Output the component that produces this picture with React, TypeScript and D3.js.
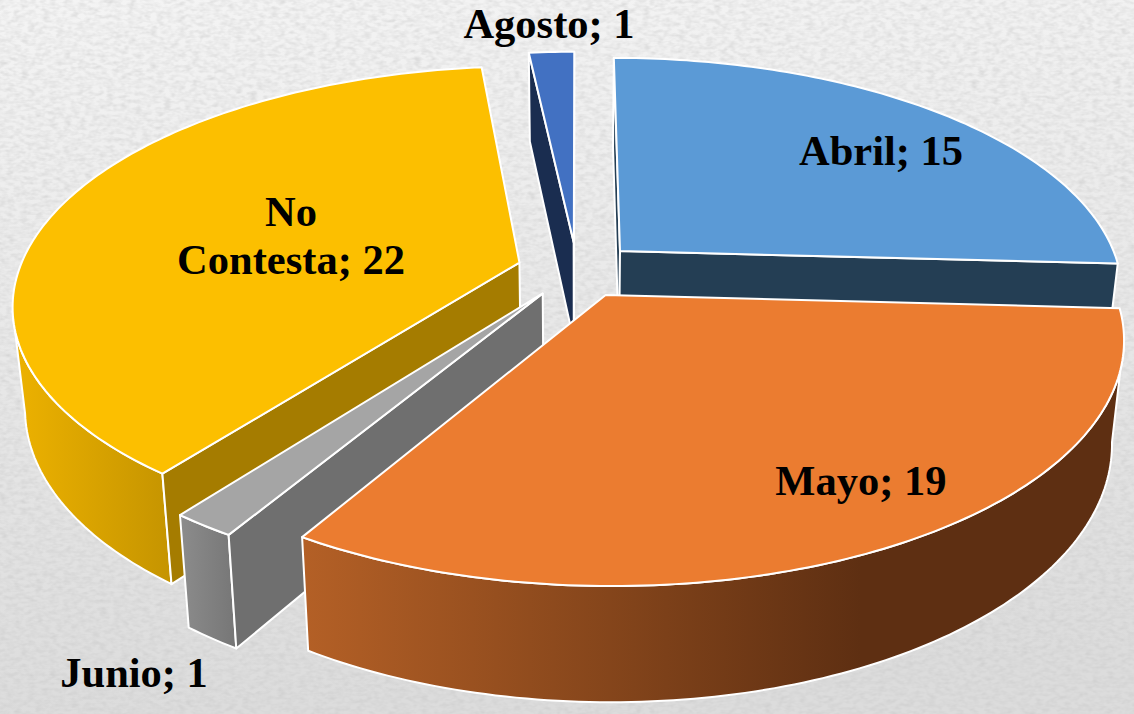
import React from "react";
import * as d3 from "d3";

const categories = ["Abril", "Mayo", "Junio", "No Contesta", "Agosto"];
const values = [15, 19, 1, 22, 1];

const topColors = ["#5B9AD6", "#EB7C30", "#A5A5A5", "#FCBF00", "#4271C2"];
const faceColors = ["#243E54", "#5E2F12", "#6F6F6F", "#A57C00", "#1A2D50"];
const wallStops: [number, string][][] = [
  [[0, "#243E54"], [1, "#243E54"]],
  [[0, "#B46026"], [0.68, "#5E2F12"], [1, "#5E2F12"]],
  [[0, "#8C8C8C"], [1, "#767676"]],
  [[0, "#EDB200"], [1, "#C59400"]],
  [[0, "#1A2D50"], [1, "#1A2D50"]],
];
const paintOrder = [4, 0, 3, 2, 1];
const labelAngle = [49.83, 148.04, 207.0, 284.4, 356.98];
const labelRadius = [0.871, 0.928, 1.505, 0.605, 1.295];
const labelLines = [["Abril; 15"], ["Mayo; 19"], ["Junio; 1"], ["No", "Contesta; 22"], ["Agosto; 1"]];

const W = 1134, H = 714;
const cx = 577, cy = 270, Rx = 500.5, Ry = 232, k = 0.17;
const explode = 0.12, thickness = 100, shrink = 0.978;

const rad = (d: number) => (d * Math.PI) / 180;

const scaleX = d3.scaleLinear().domain([0, 1]).range([0, Rx]);
const scaleY = d3.scaleLinear().domain([0, 1]).range([0, Ry]);

type Pt = [number, number];

function top(X: number, Y: number): Pt {
  const w = 1 - k * Y;
  return [cx + scaleX(X) / w, cy + scaleY(Y) / w];
}
function bottom(X: number, Y: number): Pt {
  const w = 1 - k * Y;
  return [cx + (shrink * scaleX(X)) / w, cy + (shrink * scaleY(Y) + thickness) / w];
}

const pieGen = d3.pie<number>().sort(null).startAngle(0).endAngle(2 * Math.PI);
const arcs = pieGen(values);
const line = d3.line().curve(d3.curveLinear);
const closed = (pts: Pt[]) => line(pts) + "Z";

interface Geo { i: number; wall: string | null; faces: string[]; cap: string; }

const geos: Geo[] = arcs.map((a, i) => {
  const mid = (a.startAngle + a.endAngle) / 2;
  const ox = explode * Math.sin(mid), oy = -explode * Math.cos(mid);
  const n = Math.max(4, Math.ceil((a.endAngle - a.startAngle) / rad(1)));
  const rim = d3.range(n + 1).map((j) => {
    const t = a.startAngle + ((a.endAngle - a.startAngle) * j) / n;
    return [ox + Math.sin(t), oy - Math.cos(t)] as Pt;
  });
  const topRim = rim.map((p) => top(p[0], p[1]));
  const botRim = rim.map((p) => bottom(p[0], p[1]));
  const apexT = top(ox, oy), apexB = bottom(ox, oy);

  // Only the faces that turn towards the viewer are drawn.
  const f1: Pt[] = [apexT, topRim[0], botRim[0], apexB];
  const f2: Pt[] = [apexT, topRim[n], botRim[n], apexB];
  const faces: string[] = [];
  if (d3.polygonArea(f1) > 0) faces.push(closed(f1));
  if (d3.polygonArea(f2) < 0) faces.push(closed(f2));

  const visible = d3.range(n + 1).filter((j) => {
    const seg = j < n ? j : n - 1;
    return topRim[seg + 1][0] < topRim[seg][0];
  });
  const wall = visible.length > 1
    ? closed([...visible.map((j) => topRim[j]), ...visible.slice().reverse().map((j) => botRim[j])])
    : null;

  return { i, wall, faces, cap: closed([apexT, ...topRim]) };
});

export default function App() {
  const stroke = { stroke: "#fff", strokeWidth: 2, strokeLinejoin: "round" as const };
  return (
    <svg width={W} height={H} viewBox={`0 0 ${W} ${H}`} style={{ position: "fixed", left: 0, top: 0, display: "block" }}>
      <defs>
        <linearGradient id="bg" x1="0" y1="0" x2="0.1" y2="1">
          <stop offset="0" stopColor="#F4F4F4" />
          <stop offset="1" stopColor="#DCDCDC" />
        </linearGradient>
        <filter id="paper" x="0" y="0" width="100%" height="100%">
          <feTurbulence type="fractalNoise" baseFrequency="0.14 0.26" numOctaves={2} seed={4} />
          <feColorMatrix type="matrix" values="0 0 0 0 0.55  0 0 0 0 0.55  0 0 0 0 0.55  0.6 0.6 0 0 -0.48" />
        </filter>
        {wallStops.map((stops, i) => (
          <linearGradient key={i} id={`wall${i}`} x1="0" y1="0" x2="1" y2="0">
            {stops.map(([o, c], j) => <stop key={j} offset={o} stopColor={c} />)}
          </linearGradient>
        ))}
      </defs>
      <rect width={W} height={H} fill="url(#bg)" />
      <rect width={W} height={H} filter="url(#paper)" />
      {paintOrder.map((idx) => {
        const g = geos[idx];
        return (
          <g key={categories[idx]}>
            {g.wall && <path d={g.wall} fill={`url(#wall${idx})`} {...stroke} />}
            {g.faces.map((d, j) => <path key={j} d={d} fill={faceColors[idx]} {...stroke} />)}
            <path d={g.cap} fill={topColors[idx]} {...stroke} />
          </g>
        );
      })}
      {labelLines.map((lines, i) => {
        const a = rad(labelAngle[i]);
        const [x, y] = top(labelRadius[i] * Math.sin(a), -labelRadius[i] * Math.cos(a));
        return (
          <text key={i} x={x} y={y} textAnchor="middle" fontFamily="'Liberation Serif', serif" fontWeight="bold" fontSize={42.5} fill="#000">
            {lines.map((t, j) => (
              <tspan key={j} x={x} y={y + 14 + (j - (lines.length - 1) / 2) * 48}>{t}</tspan>
            ))}
          </text>
        );
      })}
    </svg>
  );
}
